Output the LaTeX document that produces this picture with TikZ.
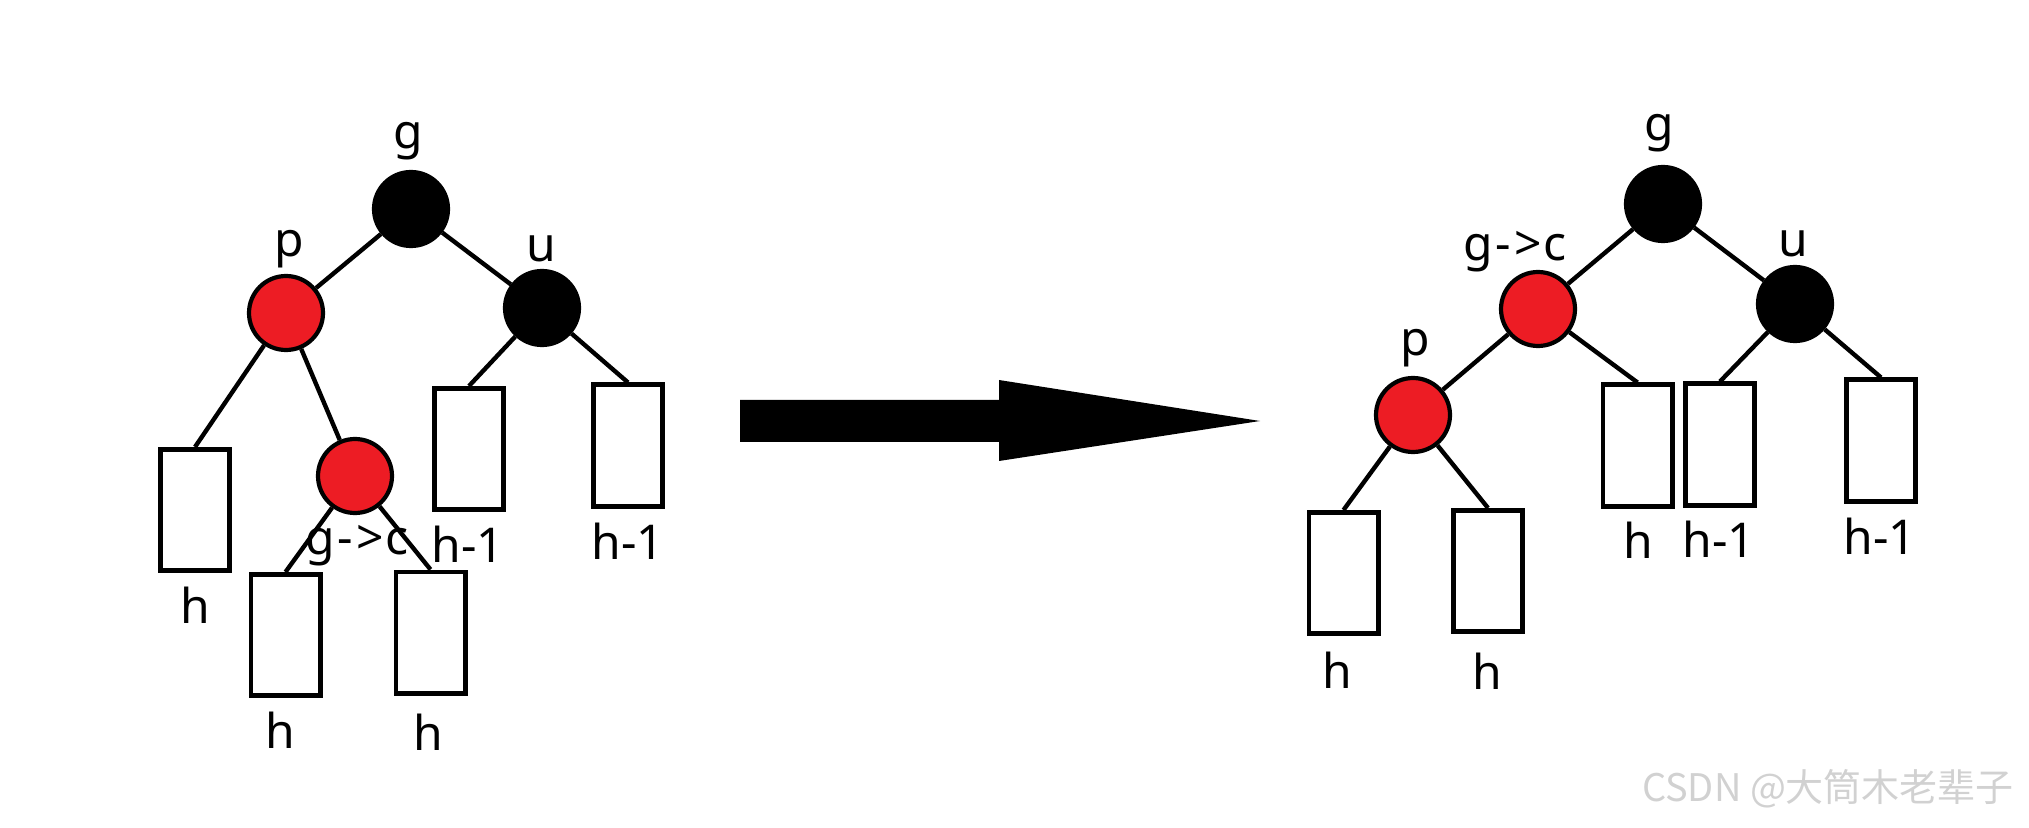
\documentclass[tikz,border=0pt]{standalone}
\usepackage{fontspec}
\setmainfont{Noto Sans}
\newfontfamily\cjkfont{Noto Sans CJK SC}
\definecolor{nodered}{HTML}{ED1C24}
\definecolor{wmgray}{gray}{0.82}
\newcommand{\gtoc}{g\kern1.5pt-\kern1.5pt>\kern1pt c}
\begin{document}
\begin{tikzpicture}[x=0.5pt,y=-0.5pt,
  rbnode/.style={circle,draw=black,line width=2.1pt,minimum size=37pt,inner sep=0pt},
  rednode/.style={rbnode,fill=nodered},
  blacknode/.style={rbnode,fill=black},
  leafbox/.style={rectangle,draw=black,line width=2.3pt,minimum width=34.7pt,minimum height=60.7pt,inner sep=0pt},
  lbl/.style={inner sep=0pt,font=\fontsize{24}{28}\selectfont},
  edge/.style={line width=2.2pt},
  wm/.style={inner sep=0pt,text=wmgray,font=\fontsize{19}{22}\selectfont\cjkfont}]
\useasboundingbox (0,0) rectangle (2029,828);
% ---------- left tree ----------
\node[blacknode] (gL) at (411,209) {};
\node[rednode] (pL) at (286,313) {};
\node[blacknode] (uL) at (542,308) {};
\node[rednode] (cL) at (355,476) {};
\node[leafbox] (bA) at (195,510) {};
\node[leafbox] (bB) at (285.5,635) {};
\node[leafbox] (bC) at (430.5,632.5) {};
\node[leafbox] (bD) at (469,449) {};
\node[leafbox] (bE) at (628,445.5) {};
\draw[edge] (gL) -- (pL);
\draw[edge] (gL) -- (uL);
\draw[edge] (pL) -- (bA.north);
\draw[edge] (pL) -- (cL);
\draw[edge] (cL) -- (bB.north);
\draw[edge] (cL) -- (bC.north);
\draw[edge] (uL) -- (bD.north);
\draw[edge] (uL) -- (bE.north);
\node[lbl] (lgL) at (408,141) {g};
\node[lbl] (lpL) at (289,249) {p};
\node[lbl] (luL) at (541,249) {u};
\node[lbl] (lcL) at (357,546) {\gtoc};
\node[lbl] (lA) at (195,605) {h};
\node[lbl] (lB) at (280,730) {h};
\node[lbl] (lC) at (428,732) {h};
\node[lbl] (lD) at (468,544) {h-1};
\node[lbl] (lE) at (628,541) {h-1};
% ---------- arrow ----------
\fill[black] (740,400) -- (999,400) -- (999,380) -- (1260,421) -- (999,461) -- (999,442) -- (740,442) -- cycle;
% ---------- right tree ----------
\node[blacknode] (gR) at (1663,204) {};
\node[rednode] (cR) at (1538,309) {};
\node[rednode] (pR) at (1413,415) {};
\node[blacknode] (uR) at (1795,304) {};
\node[leafbox] (rA) at (1343.5,573) {};
\node[leafbox] (rB) at (1488,571) {};
\node[leafbox] (rC) at (1637.5,445.5) {};
\node[leafbox] (rD) at (1720,444.5) {};
\node[leafbox] (rE) at (1881,440.5) {};
\draw[edge] (gR) -- (cR);
\draw[edge] (gR) -- (uR);
\draw[edge] (cR) -- (pR);
\draw[edge] (cR) -- (rC.north);
\draw[edge] (pR) -- (rA.north);
\draw[edge] (pR) -- (rB.north);
\draw[edge] (uR) -- (rD.north);
\draw[edge] (uR) -- (rE.north);
\node[lbl] (lgR) at (1659,133) {g};
\node[lbl] (lcR) at (1515,252) {\gtoc};
\node[lbl] (lpR) at (1415,348) {p};
\node[lbl] (luR) at (1793,244) {u};
\node[lbl] (lrA) at (1337,670) {h};
\node[lbl] (lrB) at (1487,671) {h};
\node[lbl] (lrC) at (1638,540) {h};
\node[lbl] (lrD) at (1719,539) {h-1};
\node[lbl] (lrE) at (1880,536) {h-1};
% ---------- watermark ----------
\node[wm] (wmark) at (1828,789) {CSDN @大筒木老辈子};
\end{tikzpicture}
\end{document}
